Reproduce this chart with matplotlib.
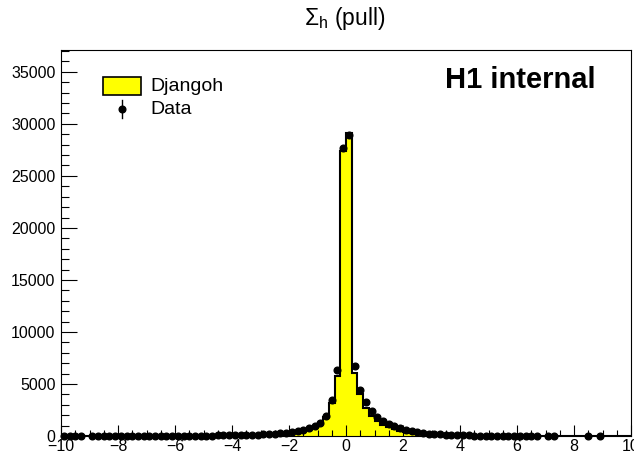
import numpy as np
import matplotlib
matplotlib.use("Agg")
import matplotlib.pyplot as plt
from matplotlib.patches import Rectangle
from matplotlib.lines import Line2D
from matplotlib.ticker import MultipleLocator, FixedLocator

plt.rcParams['font.family'] = ['Liberation Sans', 'DejaVu Sans']
plt.rcParams['mathtext.fontset'] = 'custom'
plt.rcParams['mathtext.rm'] = 'Liberation Sans'
plt.rcParams['mathtext.it'] = 'Liberation Sans'
plt.rcParams['mathtext.sf'] = 'Liberation Sans'

# Histogram binning: 100 bins of width 0.2 from -10 to 10
x_lo, x_hi, n_bins = -10.0, 10.0, 100

# Djangoh MC prediction (weighted), one entry per bin, left to right
djangoh = [
    4.0, 4.2, 4.5, 4.8, 5.1, 5.5, 5.9, 6.3, 6.8, 7.3,
    7.9, 8.5, 9.2, 10, 11, 12, 13, 14, 15.5, 17,
    19, 21, 23, 26, 29, 32, 36, 41, 46, 52,
    60, 68, 78, 90, 104, 121, 142, 168, 200, 245,
    330, 410, 520, 660, 860, 1170, 1870, 3200, 5800, 27400,
    29100, 6050, 4050, 2700, 1900, 1400, 1080, 830, 640, 500,
    400, 320, 255, 205, 165, 133, 107, 86, 69, 56,
    45, 36, 29, 23, 19, 15, 12, 10, 8, 6.5,
    5, 4, 3.2, 2.6, 2.1, 1.7, 1.4, 1.1, 0.9, 0.8,
    0.7, 0.6, 0.5, 0.4, 0.35, 0.3, 0.25, 0.2, 0.2, 0.15,
]

# Measured data counts per bin
data = [
    4, 3, 2, 3, 0, 5, 4, 6, 5, 7,
    8, 7, 9, 11, 10, 13, 14, 16, 17, 20,
    22, 25, 28, 31, 36, 40, 46, 52, 58, 66,
    75, 86, 98, 114, 132, 152, 178, 210, 250, 300,
    365, 450, 570, 730, 960, 1250, 1960, 3450, 6350, 27700,
    28950, 6750, 4450, 3250, 2450, 1850, 1470, 1170, 940, 760,
    600, 470, 370, 290, 230, 182, 146, 117, 94, 76,
    61, 49, 39, 31, 25, 20, 16, 13, 10, 8,
    6, 5, 4, 2, 0, 1, 1, 0, 0, 0,
    0, 0, 1, 0, 1, 0, 0, 0, 0, 0,
]

edges = np.linspace(x_lo, x_hi, n_bins + 1)
centers = 0.5 * (edges[:-1] + edges[1:])
djangoh = np.asarray(djangoh, dtype=float)
data = np.asarray(data, dtype=float)

fig = plt.figure(figsize=(6.34, 4.53), dpi=100)
ax = fig.add_axes([61 / 634, 17 / 453, 570 / 634, 386 / 453])

# MC histogram: yellow fill with black step outline
ax.stairs(djangoh, edges, fill=True, color='#ffff00', linewidth=0)
ax.stairs(djangoh, edges, color='black', linewidth=1.5, baseline=0)

# Data points with statistical errors (empty bins are not drawn)
mask = data > 0
ax.errorbar(centers[mask], data[mask], yerr=np.sqrt(data[mask]),
            fmt='o', color='black', markersize=4.8, elinewidth=1.0,
            capsize=0, zorder=5, clip_on=False)

ax.set_xlim(x_lo, x_hi)
ax.set_ylim(0, 37100)

ax.xaxis.set_major_locator(MultipleLocator(2))
ax.xaxis.set_minor_locator(MultipleLocator(0.5))
ax.yaxis.set_major_locator(FixedLocator(np.arange(0, 35001, 5000)))
ax.yaxis.set_minor_locator(MultipleLocator(1000))
ax.yaxis.set_major_formatter(matplotlib.ticker.FuncFormatter(lambda v, p: f"{int(v)}"))

ax.tick_params(axis='x', which='major', direction='in', length=8, width=0.8,
               labelsize=11.5, pad=2.5, top=False)
ax.tick_params(axis='x', which='minor', direction='in', length=4, width=0.8, top=False)
ax.tick_params(axis='y', which='major', direction='in', length=11.5, width=0.8,
               labelsize=11.5, pad=4, right=False)
ax.tick_params(axis='y', which='minor', direction='in', length=5.8, width=0.8, right=False)
for sp in ax.spines.values():
    sp.set_linewidth(0.8)

# Title
fig.text(345 / 634, 1 - 18 / 453, r'$\Sigma_{\mathrm{h}}$ (pull)', ha='center', va='center',
         fontsize=16.5)

# Label
ax.text(0.6737, 0.922, 'H1 internal', transform=ax.transAxes, fontsize=21,
        fontweight='bold', ha='left', va='center')

# Legend
ax.add_patch(Rectangle((0.0737, 0.8834), 0.0667, 0.0466, transform=ax.transAxes,
                       facecolor='#ffff00', edgecolor='black', linewidth=1.2, zorder=6))
ax.text(0.156, 0.9067, 'Djangoh', transform=ax.transAxes, fontsize=14,
        ha='left', va='center')
ax.add_line(Line2D([0.107, 0.107], [0.824, 0.870], transform=ax.transAxes,
                   color='black', linewidth=1.0))
ax.add_line(Line2D([0.107], [0.847], transform=ax.transAxes, marker='o',
                   markersize=4.8, color='black'))
ax.text(0.156, 0.847, 'Data', transform=ax.transAxes, fontsize=14,
        ha='left', va='center')

fig.savefig('out.png', dpi=100)
